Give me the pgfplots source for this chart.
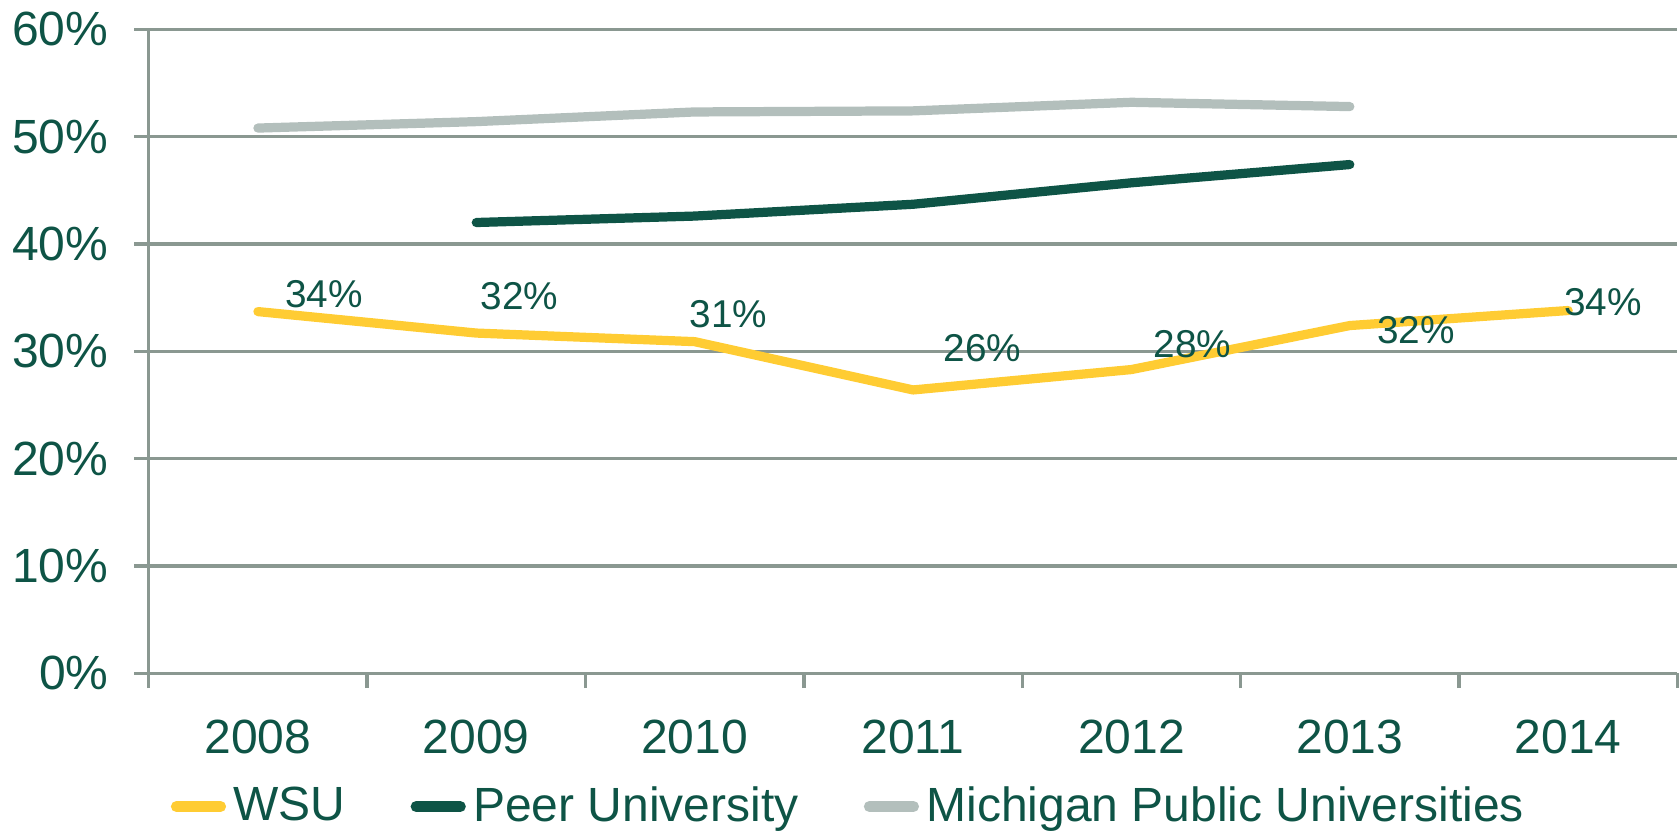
\documentclass[border=0pt]{standalone}
\usepackage{pgfplots}
\pgfplotsset{compat=1.18}
\usepackage{fontspec}
\setmainfont{Liberation Sans}

\definecolor{wsugold}{HTML}{FFCC33}
\definecolor{wsugreen}{HTML}{0E5446}
\definecolor{migray}{HTML}{B3BFBC}
\definecolor{axgray}{HTML}{8A9891}

\begin{document}
\begin{tikzpicture}
\begin{axis}[
  scale only axis,
  width=14.55cm, height=6.13cm,
  xmin=-0.5, xmax=6.5, ymin=0, ymax=60,
  xtick={-0.5,0.5,...,6.5},
  x tick label as interval,
  xticklabels={2008,2009,2010,2011,2012,2013,2014},
  ytick={0,10,...,60},
  yticklabel={\pgfmathprintnumber{\tick}\%},
  /pgf/number format/assume math mode=true,
  tick align=outside,
  major tick length=0.14cm,
  axis x line*=bottom, axis y line*=left,
  axis line style={axgray, line width=0.9pt},
  every tick/.style={axgray, line width=0.9pt},
  ymajorgrids, grid style={axgray, line width=0.9pt},
  tick label style={font=\fontsize{13}{15}\selectfont, text=wsugreen},
  yticklabel style={xshift=-0.12cm},
  xticklabel style={yshift=-0.18cm},
  legend columns=3,
  legend style={draw=none, fill=none, at={(0.014,-0.163)}, anchor=north west,
    font=\fontsize{13}{15}\selectfont, text=wsugreen,
    /tikz/every even column/.append style={column sep=0.55cm},
    /tikz/every odd column/.append style={inner xsep=0.05cm},
    inner sep=0pt},
  legend image code/.code={\draw[#1, line cap=round, line width=3pt] (0cm,0cm) -- (0.42cm,0cm);},
  every axis plot/.append style={line width=2.5pt, line cap=round, line join=round},
  clip=false,
]
\addplot[color=wsugold] coordinates {(0,33.7)(1,31.7)(2,30.9)(3,26.4)(4,28.3)(5,32.4)(6,33.8)};
\addplot[color=wsugreen] coordinates {(1,42.0)(2,42.6)(3,43.7)(4,45.7)(5,47.4)};
\addplot[color=migray] coordinates {(0,50.8)(1,51.4)(2,52.3)(3,52.4)(4,53.2)(5,52.8)};
\legend{WSU, Peer University, Michigan Public Universities}
\begin{scope}[every node/.style={font=\fontsize{10.5}{12}\selectfont, text=wsugreen}]
\node at (axis cs:0,33.7) [xshift=0.63cm, yshift=0.17cm] {34\%};
\node at (axis cs:1,31.7) [xshift=0.41cm, yshift=0.35cm] {32\%};
\node at (axis cs:2,30.9) [xshift=0.32cm, yshift=0.26cm] {31\%};
\node at (axis cs:3,26.4) [xshift=0.66cm, yshift=0.40cm] {26\%};
\node at (axis cs:4,28.3) [xshift=0.58cm, yshift=0.24cm] {28\%};
\node at (axis cs:5,32.4) [xshift=0.63cm, yshift=-0.04cm] {32\%};
\node at (axis cs:6,33.8) [xshift=0.33cm, yshift=0.08cm] {34\%};
\end{scope}
\end{axis}
\end{tikzpicture}
\end{document}
